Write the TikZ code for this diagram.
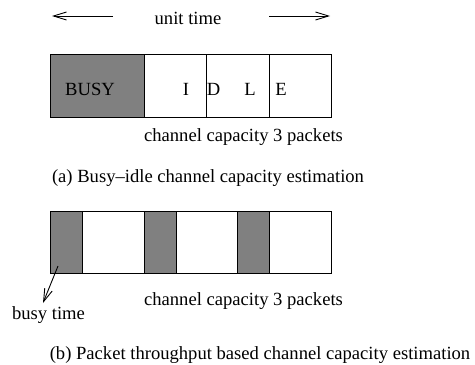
\documentclass[tikz,border=0pt]{standalone}
\usepackage{fontspec}
\setmainfont{Liberation Serif}
\usetikzlibrary{arrows.meta}
\definecolor{busygray}{HTML}{808080}
\tikzset{
  lbl/.style={inner sep=0pt, anchor=base, font=\fontsize{9.3}{11}\selectfont},
  cell/.style={draw=black, line width=0.5pt},
  busycell/.style={cell, fill=busygray},
  timearrow/.style={line width=0.45pt, -{Straight Barb[length=6.5pt,width=4pt]}},
}
\begin{document}
\begin{tikzpicture}[x=0.5pt, y=-0.5pt]
\useasboundingbox (0,0) rectangle (475,364);

% unit time span
\node[lbl] (unit) at (188,25) {unit time};
\coordinate (la) at (113,16);
\coordinate (lb) at (52,16);
\coordinate (ra) at (269,16);
\coordinate (rb) at (330,16);
\draw[timearrow] (la) -- (lb);
\draw[timearrow] (ra) -- (rb);

% busy-idle frame
\draw[busycell] (50.5,54.5) rectangle (144,117);
\draw[cell] (144,54.5) rectangle (206,117);
\draw[cell] (206,54.5) rectangle (269,117);
\draw[cell] (269,54.5) rectangle (331.5,117);
\node[lbl] (busy) at (90,95) {BUSY};
\node[lbl] (i) at (186,95) {I};
\node[lbl] (d) at (213.5,95) {D};
\node[lbl] (l) at (250,95) {L};
\node[lbl] (e) at (281,95) {E};
\node[lbl] (capa) at (243.5,141) {channel capacity 3 packets};
\node[lbl] (capta) at (208,182) {(a) Busy\textendash idle channel capacity estimation};

% packet throughput frame
\draw[cell] (50.5,211) rectangle (331.5,273);
\draw[busycell] (50.5,211) rectangle (82,273);
\draw[busycell] (144,211) rectangle (176,273);
\draw[busycell] (237.5,211) rectangle (269,273);
\node[lbl] (capb) at (243.5,305) {channel capacity 3 packets};
\node[lbl] (bt) at (48.5,319) {busy time};
\coordinate (bs) at (58,266);
\coordinate (bp) at (43,303);
\draw[timearrow] (bs) -- (bp);
\node[lbl] (captb) at (260,359) {(b) Packet throughput based channel capacity estimation};
\end{tikzpicture}
\end{document}
